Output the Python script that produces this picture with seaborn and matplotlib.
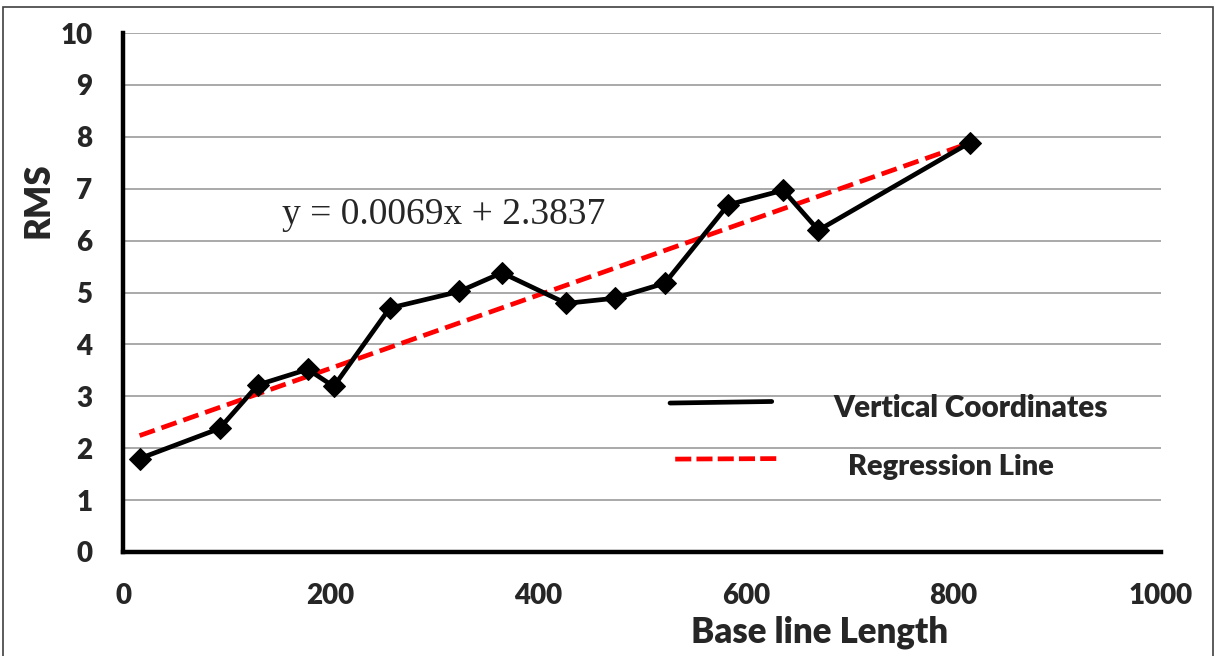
import numpy as np
import pandas as pd
import matplotlib
matplotlib.use("Agg")
import matplotlib.pyplot as plt
from matplotlib.patches import Rectangle
from matplotlib.lines import Line2D
import seaborn as sns

# values
base_length = [16, 93, 130, 178, 203, 257, 324, 365, 427, 474, 522, 583, 636, 670, 816]
rms = [1.80, 2.38, 3.22, 3.52, 3.19, 4.70, 5.02, 5.38, 4.79, 4.89, 5.18, 6.69, 6.97, 6.20, 7.89]

# drawn trendline (as it appears on the chart) and the printed equation
reg_slope = 0.00705
reg_intercept = 2.13
equation_text = "y = 0.0069x + 2.3837"

series_names = ["Vertical Coordinates", "Regression Line"]
x_ticks = [0, 200, 400, 600, 800, 1000]
y_ticks = list(range(0, 11))

df = pd.DataFrame({"length": base_length, "rms": rms})
reg_x = np.array([base_length[0], base_length[-1]])
reg_df = pd.DataFrame({"length": reg_x, "rms": reg_slope * reg_x + reg_intercept})

sns.set_style("white")
plt.rcParams["font.family"] = ["Lato", "DejaVu Sans"]
plt.rcParams["font.weight"] = "heavy"
W = "heavy"

fig = plt.figure(figsize=(12.17, 6.56), dpi=100)
ax = fig.add_axes([123 / 1217, 1 - 552 / 656, 1038 / 1217, 519 / 656])

# gridlines
ax.set_axisbelow(True)
ax.yaxis.grid(True, color="#a3a3a3", linewidth=1.3)
ax.xaxis.grid(False)

sns.lineplot(data=reg_df, x="length", y="rms", ax=ax, color="#ff0000",
             linewidth=3.4, dashes=False, zorder=3)
ax.lines[-1].set_dashes((3.4, 1.5))
sns.lineplot(data=df, x="length", y="rms", ax=ax, color="black",
             linewidth=3.4, marker="D", markersize=11.5, markeredgecolor="black",
             zorder=4)

ax.set_xlim(0, 1000)
ax.set_ylim(0, 10)
ax.set_xticks(x_ticks)
ax.set_yticks(y_ticks)
ax.tick_params(axis="both", which="major", labelsize=20, length=8, width=3.5,
               pad=14, direction="out", color="black")
for lab in ax.get_xticklabels() + ax.get_yticklabels():
    lab.set_fontweight(W)

for side in ["top", "right"]:
    ax.spines[side].set_visible(False)
for side in ["left", "bottom"]:
    ax.spines[side].set_color("black")
    ax.spines[side].set_linewidth(3.2)

ax.set_xlabel("Base line Length", fontsize=25, fontweight=W, va="center")
ax.set_ylabel("RMS", fontsize=25, fontweight=W, va="center")
ax.xaxis.set_label_coords(0.671, -0.154)
ax.yaxis.set_label_coords(-0.082, 0.678)

# equation text
ax.text(153, 6.49, equation_text, fontsize=27, family="Liberation Serif",
        fontweight="normal", va="center", ha="left")

# hand-placed legend like the original
tr = ax.transAxes
ax.add_line(Line2D([0.527, 0.625], [0.287, 0.29], transform=tr, color="black",
                   linewidth=3.4))
ax.add_line(Line2D([0.532, 0.63], [0.179, 0.18], transform=tr, color="#ff0000",
                   linewidth=3.4, dashes=(3.4, 1.1)))
ax.text(0.684, 0.277, series_names[0], transform=tr, fontsize=21.3,
        fontweight=W, va="center", ha="left")
ax.text(0.698, 0.163, series_names[1], transform=tr, fontsize=21,
        fontweight=W, va="center", ha="left")

# outer frame of the chart area
fig.patches.append(Rectangle((3 / 1217, -0.01), 1210 / 1217, 1 - 7 / 656 + 0.01,
                             transform=fig.transFigure, fill=False,
                             edgecolor="#404040", linewidth=1.2))

fig.savefig("out.png", dpi=100)
